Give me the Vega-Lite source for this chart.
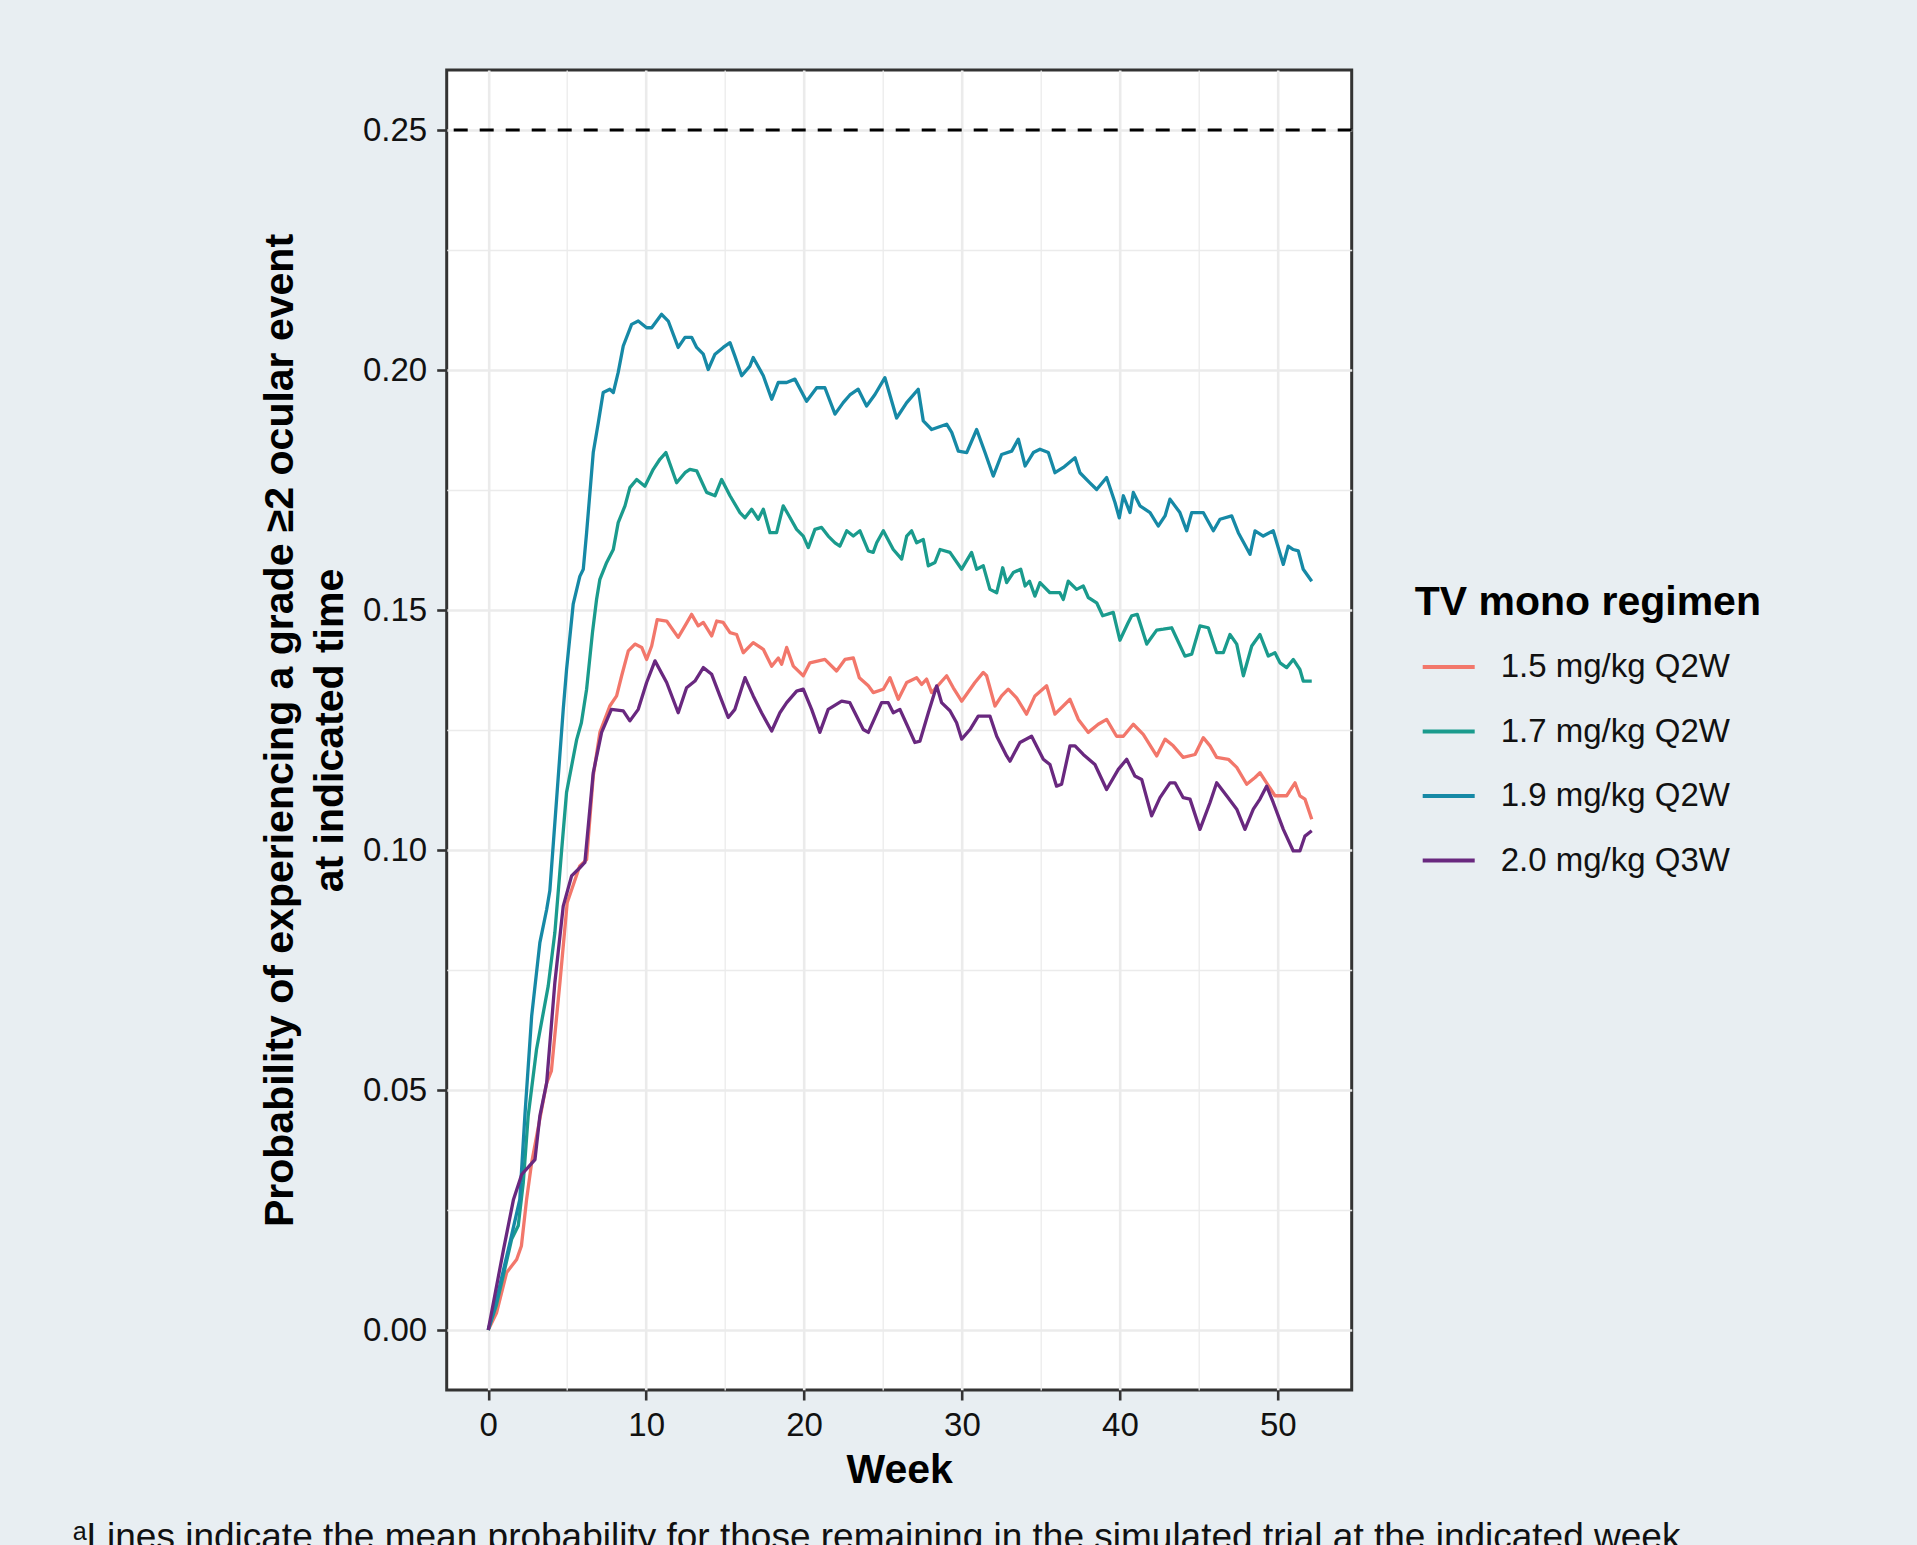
{
  "$schema": "https://vega.github.io/schema/vega-lite/v6.json",
  "width": 905,
  "height": 1320,
  "autosize": {"type": "none"},
  "padding": {"left": 446.7, "top": 70, "right": 565.3, "bottom": 155},
  "background": "#E8EEF2",
  "title": {
    "text": "ᵃLines indicate the mean probability for those remaining in the simulated trial at the indicated week.",
    "orient": "bottom",
    "anchor": "start",
    "frame": "group",
    "dx": -374,
    "offset": 30,
    "fontSize": 37,
    "fontWeight": "normal",
    "font": "Liberation Sans",
    "color": "#111111"
  },
  "datasets": {
    "curves": [
      {"regimen": "1.5 mg/kg Q2W", "week": 0, "prob": 0},
      {"regimen": "1.5 mg/kg Q2W", "week": 0.53, "prob": 0.0036},
      {"regimen": "1.5 mg/kg Q2W", "week": 1.17, "prob": 0.012},
      {"regimen": "1.5 mg/kg Q2W", "week": 1.8, "prob": 0.0147},
      {"regimen": "1.5 mg/kg Q2W", "week": 2.1, "prob": 0.0175},
      {"regimen": "1.5 mg/kg Q2W", "week": 2.43, "prob": 0.0272},
      {"regimen": "1.5 mg/kg Q2W", "week": 2.75, "prob": 0.0349},
      {"regimen": "1.5 mg/kg Q2W", "week": 3.7, "prob": 0.0515},
      {"regimen": "1.5 mg/kg Q2W", "week": 4.0, "prob": 0.054},
      {"regimen": "1.5 mg/kg Q2W", "week": 4.54, "prob": 0.0724},
      {"regimen": "1.5 mg/kg Q2W", "week": 5.0, "prob": 0.089},
      {"regimen": "1.5 mg/kg Q2W", "week": 5.8, "prob": 0.0967},
      {"regimen": "1.5 mg/kg Q2W", "week": 6.23, "prob": 0.098},
      {"regimen": "1.5 mg/kg Q2W", "week": 6.65, "prob": 0.1154},
      {"regimen": "1.5 mg/kg Q2W", "week": 7.07, "prob": 0.1245},
      {"regimen": "1.5 mg/kg Q2W", "week": 7.7, "prob": 0.13},
      {"regimen": "1.5 mg/kg Q2W", "week": 8.13, "prob": 0.1321},
      {"regimen": "1.5 mg/kg Q2W", "week": 8.45, "prob": 0.1363},
      {"regimen": "1.5 mg/kg Q2W", "week": 8.87, "prob": 0.1415},
      {"regimen": "1.5 mg/kg Q2W", "week": 9.29, "prob": 0.1429},
      {"regimen": "1.5 mg/kg Q2W", "week": 9.72, "prob": 0.1422},
      {"regimen": "1.5 mg/kg Q2W", "week": 10.03, "prob": 0.1397},
      {"regimen": "1.5 mg/kg Q2W", "week": 10.35, "prob": 0.1425},
      {"regimen": "1.5 mg/kg Q2W", "week": 10.7, "prob": 0.148},
      {"regimen": "1.5 mg/kg Q2W", "week": 11.3, "prob": 0.1477},
      {"regimen": "1.5 mg/kg Q2W", "week": 12.03, "prob": 0.1443},
      {"regimen": "1.5 mg/kg Q2W", "week": 12.46, "prob": 0.1467},
      {"regimen": "1.5 mg/kg Q2W", "week": 12.88, "prob": 0.1491},
      {"regimen": "1.5 mg/kg Q2W", "week": 13.3, "prob": 0.1467},
      {"regimen": "1.5 mg/kg Q2W", "week": 13.62, "prob": 0.1474},
      {"regimen": "1.5 mg/kg Q2W", "week": 14.15, "prob": 0.1446},
      {"regimen": "1.5 mg/kg Q2W", "week": 14.47, "prob": 0.1477},
      {"regimen": "1.5 mg/kg Q2W", "week": 14.88, "prob": 0.1474},
      {"regimen": "1.5 mg/kg Q2W", "week": 15.31, "prob": 0.1453},
      {"regimen": "1.5 mg/kg Q2W", "week": 15.73, "prob": 0.1449},
      {"regimen": "1.5 mg/kg Q2W", "week": 16.15, "prob": 0.1411},
      {"regimen": "1.5 mg/kg Q2W", "week": 16.78, "prob": 0.1432},
      {"regimen": "1.5 mg/kg Q2W", "week": 17.42, "prob": 0.1418},
      {"regimen": "1.5 mg/kg Q2W", "week": 17.95, "prob": 0.1383},
      {"regimen": "1.5 mg/kg Q2W", "week": 18.37, "prob": 0.14},
      {"regimen": "1.5 mg/kg Q2W", "week": 18.58, "prob": 0.1387},
      {"regimen": "1.5 mg/kg Q2W", "week": 18.9, "prob": 0.1422},
      {"regimen": "1.5 mg/kg Q2W", "week": 19.32, "prob": 0.1383},
      {"regimen": "1.5 mg/kg Q2W", "week": 19.95, "prob": 0.1363},
      {"regimen": "1.5 mg/kg Q2W", "week": 20.37, "prob": 0.139},
      {"regimen": "1.5 mg/kg Q2W", "week": 21.32, "prob": 0.1397},
      {"regimen": "1.5 mg/kg Q2W", "week": 22.06, "prob": 0.1373},
      {"regimen": "1.5 mg/kg Q2W", "week": 22.59, "prob": 0.1397},
      {"regimen": "1.5 mg/kg Q2W", "week": 23.12, "prob": 0.14},
      {"regimen": "1.5 mg/kg Q2W", "week": 23.5, "prob": 0.1359},
      {"regimen": "1.5 mg/kg Q2W", "week": 24.07, "prob": 0.1342},
      {"regimen": "1.5 mg/kg Q2W", "week": 24.38, "prob": 0.1328},
      {"regimen": "1.5 mg/kg Q2W", "week": 25.02, "prob": 0.1335},
      {"regimen": "1.5 mg/kg Q2W", "week": 25.44, "prob": 0.1359},
      {"regimen": "1.5 mg/kg Q2W", "week": 25.97, "prob": 0.1314},
      {"regimen": "1.5 mg/kg Q2W", "week": 26.5, "prob": 0.1349},
      {"regimen": "1.5 mg/kg Q2W", "week": 27.13, "prob": 0.1359},
      {"regimen": "1.5 mg/kg Q2W", "week": 27.45, "prob": 0.1345},
      {"regimen": "1.5 mg/kg Q2W", "week": 27.76, "prob": 0.1356},
      {"regimen": "1.5 mg/kg Q2W", "week": 28.08, "prob": 0.1328},
      {"regimen": "1.5 mg/kg Q2W", "week": 29.03, "prob": 0.1363},
      {"regimen": "1.5 mg/kg Q2W", "week": 29.45, "prob": 0.1338},
      {"regimen": "1.5 mg/kg Q2W", "week": 29.98, "prob": 0.131},
      {"regimen": "1.5 mg/kg Q2W", "week": 30.82, "prob": 0.1349},
      {"regimen": "1.5 mg/kg Q2W", "week": 31.35, "prob": 0.137},
      {"regimen": "1.5 mg/kg Q2W", "week": 31.56, "prob": 0.1363},
      {"regimen": "1.5 mg/kg Q2W", "week": 32.09, "prob": 0.13},
      {"regimen": "1.5 mg/kg Q2W", "week": 32.51, "prob": 0.1321},
      {"regimen": "1.5 mg/kg Q2W", "week": 32.93, "prob": 0.1335},
      {"regimen": "1.5 mg/kg Q2W", "week": 33.46, "prob": 0.1317},
      {"regimen": "1.5 mg/kg Q2W", "week": 34.09, "prob": 0.1283},
      {"regimen": "1.5 mg/kg Q2W", "week": 34.62, "prob": 0.1321},
      {"regimen": "1.5 mg/kg Q2W", "week": 35.36, "prob": 0.1342},
      {"regimen": "1.5 mg/kg Q2W", "week": 35.89, "prob": 0.1283},
      {"regimen": "1.5 mg/kg Q2W", "week": 36.84, "prob": 0.1314},
      {"regimen": "1.5 mg/kg Q2W", "week": 37.37, "prob": 0.1272},
      {"regimen": "1.5 mg/kg Q2W", "week": 38.0, "prob": 0.1245},
      {"regimen": "1.5 mg/kg Q2W", "week": 38.63, "prob": 0.1262},
      {"regimen": "1.5 mg/kg Q2W", "week": 39.16, "prob": 0.1272},
      {"regimen": "1.5 mg/kg Q2W", "week": 39.79, "prob": 0.1237},
      {"regimen": "1.5 mg/kg Q2W", "week": 40.22, "prob": 0.1237},
      {"regimen": "1.5 mg/kg Q2W", "week": 40.85, "prob": 0.1262},
      {"regimen": "1.5 mg/kg Q2W", "week": 41.48, "prob": 0.1241},
      {"regimen": "1.5 mg/kg Q2W", "week": 42.33, "prob": 0.1196},
      {"regimen": "1.5 mg/kg Q2W", "week": 42.86, "prob": 0.1231},
      {"regimen": "1.5 mg/kg Q2W", "week": 43.38, "prob": 0.1217},
      {"regimen": "1.5 mg/kg Q2W", "week": 44.01, "prob": 0.1193},
      {"regimen": "1.5 mg/kg Q2W", "week": 44.76, "prob": 0.1199},
      {"regimen": "1.5 mg/kg Q2W", "week": 45.28, "prob": 0.1234},
      {"regimen": "1.5 mg/kg Q2W", "week": 45.71, "prob": 0.1217},
      {"regimen": "1.5 mg/kg Q2W", "week": 46.13, "prob": 0.1193},
      {"regimen": "1.5 mg/kg Q2W", "week": 46.87, "prob": 0.1189},
      {"regimen": "1.5 mg/kg Q2W", "week": 47.4, "prob": 0.1172},
      {"regimen": "1.5 mg/kg Q2W", "week": 48.03, "prob": 0.1137},
      {"regimen": "1.5 mg/kg Q2W", "week": 48.56, "prob": 0.1151},
      {"regimen": "1.5 mg/kg Q2W", "week": 48.87, "prob": 0.1161},
      {"regimen": "1.5 mg/kg Q2W", "week": 49.29, "prob": 0.114},
      {"regimen": "1.5 mg/kg Q2W", "week": 49.82, "prob": 0.1113},
      {"regimen": "1.5 mg/kg Q2W", "week": 50.56, "prob": 0.1113},
      {"regimen": "1.5 mg/kg Q2W", "week": 51.09, "prob": 0.114},
      {"regimen": "1.5 mg/kg Q2W", "week": 51.4, "prob": 0.1113},
      {"regimen": "1.5 mg/kg Q2W", "week": 51.72, "prob": 0.1106},
      {"regimen": "1.5 mg/kg Q2W", "week": 52.15, "prob": 0.1064},

      {"regimen": "1.7 mg/kg Q2W", "week": 0, "prob": 0},
      {"regimen": "1.7 mg/kg Q2W", "week": 0.5, "prob": 0.005},
      {"regimen": "1.7 mg/kg Q2W", "week": 1.0, "prob": 0.012},
      {"regimen": "1.7 mg/kg Q2W", "week": 1.48, "prob": 0.0189},
      {"regimen": "1.7 mg/kg Q2W", "week": 1.9, "prob": 0.0217},
      {"regimen": "1.7 mg/kg Q2W", "week": 2.22, "prob": 0.0307},
      {"regimen": "1.7 mg/kg Q2W", "week": 2.53, "prob": 0.0446},
      {"regimen": "1.7 mg/kg Q2W", "week": 3.06, "prob": 0.0585},
      {"regimen": "1.7 mg/kg Q2W", "week": 3.8, "prob": 0.0717},
      {"regimen": "1.7 mg/kg Q2W", "week": 4.22, "prob": 0.0828},
      {"regimen": "1.7 mg/kg Q2W", "week": 4.65, "prob": 0.1},
      {"regimen": "1.7 mg/kg Q2W", "week": 4.96, "prob": 0.112},
      {"regimen": "1.7 mg/kg Q2W", "week": 5.6, "prob": 0.123},
      {"regimen": "1.7 mg/kg Q2W", "week": 5.9, "prob": 0.1265},
      {"regimen": "1.7 mg/kg Q2W", "week": 6.23, "prob": 0.1335},
      {"regimen": "1.7 mg/kg Q2W", "week": 6.6, "prob": 0.1453},
      {"regimen": "1.7 mg/kg Q2W", "week": 6.86, "prob": 0.1522},
      {"regimen": "1.7 mg/kg Q2W", "week": 7.07, "prob": 0.1564},
      {"regimen": "1.7 mg/kg Q2W", "week": 7.5, "prob": 0.1599},
      {"regimen": "1.7 mg/kg Q2W", "week": 7.92, "prob": 0.1626},
      {"regimen": "1.7 mg/kg Q2W", "week": 8.23, "prob": 0.1682},
      {"regimen": "1.7 mg/kg Q2W", "week": 8.66, "prob": 0.1717},
      {"regimen": "1.7 mg/kg Q2W", "week": 8.97, "prob": 0.1755},
      {"regimen": "1.7 mg/kg Q2W", "week": 9.4, "prob": 0.1772},
      {"regimen": "1.7 mg/kg Q2W", "week": 9.92, "prob": 0.1758},
      {"regimen": "1.7 mg/kg Q2W", "week": 10.45, "prob": 0.1793},
      {"regimen": "1.7 mg/kg Q2W", "week": 10.87, "prob": 0.1814},
      {"regimen": "1.7 mg/kg Q2W", "week": 11.25, "prob": 0.1828},
      {"regimen": "1.7 mg/kg Q2W", "week": 11.93, "prob": 0.1765},
      {"regimen": "1.7 mg/kg Q2W", "week": 12.46, "prob": 0.1786},
      {"regimen": "1.7 mg/kg Q2W", "week": 12.77, "prob": 0.1793},
      {"regimen": "1.7 mg/kg Q2W", "week": 13.2, "prob": 0.179},
      {"regimen": "1.7 mg/kg Q2W", "week": 13.83, "prob": 0.1745},
      {"regimen": "1.7 mg/kg Q2W", "week": 14.36, "prob": 0.1738},
      {"regimen": "1.7 mg/kg Q2W", "week": 14.78, "prob": 0.1772},
      {"regimen": "1.7 mg/kg Q2W", "week": 15.31, "prob": 0.1738},
      {"regimen": "1.7 mg/kg Q2W", "week": 15.94, "prob": 0.1703},
      {"regimen": "1.7 mg/kg Q2W", "week": 16.26, "prob": 0.1692},
      {"regimen": "1.7 mg/kg Q2W", "week": 16.68, "prob": 0.171},
      {"regimen": "1.7 mg/kg Q2W", "week": 17.1, "prob": 0.1689},
      {"regimen": "1.7 mg/kg Q2W", "week": 17.42, "prob": 0.171},
      {"regimen": "1.7 mg/kg Q2W", "week": 17.84, "prob": 0.1661},
      {"regimen": "1.7 mg/kg Q2W", "week": 18.26, "prob": 0.1661},
      {"regimen": "1.7 mg/kg Q2W", "week": 18.68, "prob": 0.1717},
      {"regimen": "1.7 mg/kg Q2W", "week": 19.0, "prob": 0.1699},
      {"regimen": "1.7 mg/kg Q2W", "week": 19.53, "prob": 0.1668},
      {"regimen": "1.7 mg/kg Q2W", "week": 19.95, "prob": 0.1654},
      {"regimen": "1.7 mg/kg Q2W", "week": 20.27, "prob": 0.163},
      {"regimen": "1.7 mg/kg Q2W", "week": 20.69, "prob": 0.1668},
      {"regimen": "1.7 mg/kg Q2W", "week": 21.11, "prob": 0.1672},
      {"regimen": "1.7 mg/kg Q2W", "week": 21.53, "prob": 0.1654},
      {"regimen": "1.7 mg/kg Q2W", "week": 21.96, "prob": 0.164},
      {"regimen": "1.7 mg/kg Q2W", "week": 22.27, "prob": 0.1633},
      {"regimen": "1.7 mg/kg Q2W", "week": 22.7, "prob": 0.1665},
      {"regimen": "1.7 mg/kg Q2W", "week": 23.12, "prob": 0.1654},
      {"regimen": "1.7 mg/kg Q2W", "week": 23.54, "prob": 0.1665},
      {"regimen": "1.7 mg/kg Q2W", "week": 24.07, "prob": 0.1623},
      {"regimen": "1.7 mg/kg Q2W", "week": 24.38, "prob": 0.162},
      {"regimen": "1.7 mg/kg Q2W", "week": 24.6, "prob": 0.164},
      {"regimen": "1.7 mg/kg Q2W", "week": 25.02, "prob": 0.1665},
      {"regimen": "1.7 mg/kg Q2W", "week": 25.65, "prob": 0.1626},
      {"regimen": "1.7 mg/kg Q2W", "week": 26.18, "prob": 0.1606},
      {"regimen": "1.7 mg/kg Q2W", "week": 26.5, "prob": 0.1654},
      {"regimen": "1.7 mg/kg Q2W", "week": 26.81, "prob": 0.1665},
      {"regimen": "1.7 mg/kg Q2W", "week": 27.13, "prob": 0.164},
      {"regimen": "1.7 mg/kg Q2W", "week": 27.55, "prob": 0.1647},
      {"regimen": "1.7 mg/kg Q2W", "week": 27.87, "prob": 0.1592},
      {"regimen": "1.7 mg/kg Q2W", "week": 28.29, "prob": 0.1599},
      {"regimen": "1.7 mg/kg Q2W", "week": 28.61, "prob": 0.1626},
      {"regimen": "1.7 mg/kg Q2W", "week": 29.24, "prob": 0.162},
      {"regimen": "1.7 mg/kg Q2W", "week": 29.98, "prob": 0.1585},
      {"regimen": "1.7 mg/kg Q2W", "week": 30.61, "prob": 0.162},
      {"regimen": "1.7 mg/kg Q2W", "week": 30.93, "prob": 0.1585},
      {"regimen": "1.7 mg/kg Q2W", "week": 31.35, "prob": 0.1592},
      {"regimen": "1.7 mg/kg Q2W", "week": 31.77, "prob": 0.1543},
      {"regimen": "1.7 mg/kg Q2W", "week": 32.2, "prob": 0.1536},
      {"regimen": "1.7 mg/kg Q2W", "week": 32.58, "prob": 0.1588},
      {"regimen": "1.7 mg/kg Q2W", "week": 32.83, "prob": 0.1557},
      {"regimen": "1.7 mg/kg Q2W", "week": 33.25, "prob": 0.1578},
      {"regimen": "1.7 mg/kg Q2W", "week": 33.72, "prob": 0.1585},
      {"regimen": "1.7 mg/kg Q2W", "week": 34.0, "prob": 0.155},
      {"regimen": "1.7 mg/kg Q2W", "week": 34.28, "prob": 0.156},
      {"regimen": "1.7 mg/kg Q2W", "week": 34.62, "prob": 0.1529},
      {"regimen": "1.7 mg/kg Q2W", "week": 34.94, "prob": 0.1557},
      {"regimen": "1.7 mg/kg Q2W", "week": 35.57, "prob": 0.1536},
      {"regimen": "1.7 mg/kg Q2W", "week": 36.2, "prob": 0.1536},
      {"regimen": "1.7 mg/kg Q2W", "week": 36.42, "prob": 0.1522},
      {"regimen": "1.7 mg/kg Q2W", "week": 36.73, "prob": 0.156},
      {"regimen": "1.7 mg/kg Q2W", "week": 37.26, "prob": 0.1543},
      {"regimen": "1.7 mg/kg Q2W", "week": 37.68, "prob": 0.155},
      {"regimen": "1.7 mg/kg Q2W", "week": 38.0, "prob": 0.1526},
      {"regimen": "1.7 mg/kg Q2W", "week": 38.53, "prob": 0.1515},
      {"regimen": "1.7 mg/kg Q2W", "week": 38.91, "prob": 0.1488},
      {"regimen": "1.7 mg/kg Q2W", "week": 39.58, "prob": 0.1495},
      {"regimen": "1.7 mg/kg Q2W", "week": 40.0, "prob": 0.1437},
      {"regimen": "1.7 mg/kg Q2W", "week": 40.53, "prob": 0.1474},
      {"regimen": "1.7 mg/kg Q2W", "week": 40.75, "prob": 0.1488},
      {"regimen": "1.7 mg/kg Q2W", "week": 41.1, "prob": 0.1491},
      {"regimen": "1.7 mg/kg Q2W", "week": 41.7, "prob": 0.1429},
      {"regimen": "1.7 mg/kg Q2W", "week": 42.33, "prob": 0.1458},
      {"regimen": "1.7 mg/kg Q2W", "week": 42.75, "prob": 0.146},
      {"regimen": "1.7 mg/kg Q2W", "week": 43.28, "prob": 0.1463},
      {"regimen": "1.7 mg/kg Q2W", "week": 44.12, "prob": 0.1404},
      {"regimen": "1.7 mg/kg Q2W", "week": 44.55, "prob": 0.1408},
      {"regimen": "1.7 mg/kg Q2W", "week": 45.07, "prob": 0.1467},
      {"regimen": "1.7 mg/kg Q2W", "week": 45.6, "prob": 0.1463},
      {"regimen": "1.7 mg/kg Q2W", "week": 46.13, "prob": 0.1411},
      {"regimen": "1.7 mg/kg Q2W", "week": 46.55, "prob": 0.1411},
      {"regimen": "1.7 mg/kg Q2W", "week": 46.97, "prob": 0.1449},
      {"regimen": "1.7 mg/kg Q2W", "week": 47.4, "prob": 0.1429},
      {"regimen": "1.7 mg/kg Q2W", "week": 47.82, "prob": 0.1363},
      {"regimen": "1.7 mg/kg Q2W", "week": 48.35, "prob": 0.1425},
      {"regimen": "1.7 mg/kg Q2W", "week": 48.87, "prob": 0.1449},
      {"regimen": "1.7 mg/kg Q2W", "week": 49.4, "prob": 0.1404},
      {"regimen": "1.7 mg/kg Q2W", "week": 49.82, "prob": 0.1411},
      {"regimen": "1.7 mg/kg Q2W", "week": 50.14, "prob": 0.139},
      {"regimen": "1.7 mg/kg Q2W", "week": 50.56, "prob": 0.138},
      {"regimen": "1.7 mg/kg Q2W", "week": 50.98, "prob": 0.1397},
      {"regimen": "1.7 mg/kg Q2W", "week": 51.4, "prob": 0.1376},
      {"regimen": "1.7 mg/kg Q2W", "week": 51.61, "prob": 0.1352},
      {"regimen": "1.7 mg/kg Q2W", "week": 52.15, "prob": 0.1352},

      {"regimen": "1.9 mg/kg Q2W", "week": 0, "prob": 0},
      {"regimen": "1.9 mg/kg Q2W", "week": 0.5, "prob": 0.006},
      {"regimen": "1.9 mg/kg Q2W", "week": 1.0, "prob": 0.013},
      {"regimen": "1.9 mg/kg Q2W", "week": 1.5, "prob": 0.02},
      {"regimen": "1.9 mg/kg Q2W", "week": 2.0, "prob": 0.0272},
      {"regimen": "1.9 mg/kg Q2W", "week": 2.32, "prob": 0.0446},
      {"regimen": "1.9 mg/kg Q2W", "week": 2.75, "prob": 0.0654},
      {"regimen": "1.9 mg/kg Q2W", "week": 3.27, "prob": 0.0807},
      {"regimen": "1.9 mg/kg Q2W", "week": 3.7, "prob": 0.0876},
      {"regimen": "1.9 mg/kg Q2W", "week": 3.9, "prob": 0.0915},
      {"regimen": "1.9 mg/kg Q2W", "week": 4.33, "prob": 0.1106},
      {"regimen": "1.9 mg/kg Q2W", "week": 4.75, "prob": 0.1293},
      {"regimen": "1.9 mg/kg Q2W", "week": 4.96, "prob": 0.1376},
      {"regimen": "1.9 mg/kg Q2W", "week": 5.38, "prob": 0.1512},
      {"regimen": "1.9 mg/kg Q2W", "week": 5.8, "prob": 0.157},
      {"regimen": "1.9 mg/kg Q2W", "week": 6.02, "prob": 0.1585},
      {"regimen": "1.9 mg/kg Q2W", "week": 6.23, "prob": 0.1661},
      {"regimen": "1.9 mg/kg Q2W", "week": 6.65, "prob": 0.1828},
      {"regimen": "1.9 mg/kg Q2W", "week": 6.97, "prob": 0.189},
      {"regimen": "1.9 mg/kg Q2W", "week": 7.28, "prob": 0.1953},
      {"regimen": "1.9 mg/kg Q2W", "week": 7.7, "prob": 0.196},
      {"regimen": "1.9 mg/kg Q2W", "week": 7.92, "prob": 0.1953},
      {"regimen": "1.9 mg/kg Q2W", "week": 8.23, "prob": 0.1995},
      {"regimen": "1.9 mg/kg Q2W", "week": 8.55, "prob": 0.205},
      {"regimen": "1.9 mg/kg Q2W", "week": 9.08, "prob": 0.2095},
      {"regimen": "1.9 mg/kg Q2W", "week": 9.5, "prob": 0.2102},
      {"regimen": "1.9 mg/kg Q2W", "week": 10.03, "prob": 0.2088},
      {"regimen": "1.9 mg/kg Q2W", "week": 10.35, "prob": 0.2088},
      {"regimen": "1.9 mg/kg Q2W", "week": 10.98, "prob": 0.2116},
      {"regimen": "1.9 mg/kg Q2W", "week": 11.4, "prob": 0.2102},
      {"regimen": "1.9 mg/kg Q2W", "week": 12.03, "prob": 0.2047},
      {"regimen": "1.9 mg/kg Q2W", "week": 12.46, "prob": 0.2068},
      {"regimen": "1.9 mg/kg Q2W", "week": 12.88, "prob": 0.2068},
      {"regimen": "1.9 mg/kg Q2W", "week": 13.2, "prob": 0.2047},
      {"regimen": "1.9 mg/kg Q2W", "week": 13.62, "prob": 0.2033},
      {"regimen": "1.9 mg/kg Q2W", "week": 13.93, "prob": 0.2001},
      {"regimen": "1.9 mg/kg Q2W", "week": 14.36, "prob": 0.2033},
      {"regimen": "1.9 mg/kg Q2W", "week": 14.88, "prob": 0.2047},
      {"regimen": "1.9 mg/kg Q2W", "week": 15.31, "prob": 0.2057},
      {"regimen": "1.9 mg/kg Q2W", "week": 15.62, "prob": 0.2029},
      {"regimen": "1.9 mg/kg Q2W", "week": 16.05, "prob": 0.1988},
      {"regimen": "1.9 mg/kg Q2W", "week": 16.57, "prob": 0.2008},
      {"regimen": "1.9 mg/kg Q2W", "week": 16.78, "prob": 0.2026},
      {"regimen": "1.9 mg/kg Q2W", "week": 17.42, "prob": 0.1988},
      {"regimen": "1.9 mg/kg Q2W", "week": 17.95, "prob": 0.1939},
      {"regimen": "1.9 mg/kg Q2W", "week": 18.37, "prob": 0.1974},
      {"regimen": "1.9 mg/kg Q2W", "week": 18.9, "prob": 0.1974},
      {"regimen": "1.9 mg/kg Q2W", "week": 19.42, "prob": 0.1981},
      {"regimen": "1.9 mg/kg Q2W", "week": 20.16, "prob": 0.1935},
      {"regimen": "1.9 mg/kg Q2W", "week": 20.8, "prob": 0.1963},
      {"regimen": "1.9 mg/kg Q2W", "week": 21.32, "prob": 0.1963},
      {"regimen": "1.9 mg/kg Q2W", "week": 21.96, "prob": 0.1908},
      {"regimen": "1.9 mg/kg Q2W", "week": 22.48, "prob": 0.1932},
      {"regimen": "1.9 mg/kg Q2W", "week": 22.9, "prob": 0.1948},
      {"regimen": "1.9 mg/kg Q2W", "week": 23.43, "prob": 0.196},
      {"regimen": "1.9 mg/kg Q2W", "week": 23.96, "prob": 0.1925},
      {"regimen": "1.9 mg/kg Q2W", "week": 24.49, "prob": 0.1949},
      {"regimen": "1.9 mg/kg Q2W", "week": 25.12, "prob": 0.1984},
      {"regimen": "1.9 mg/kg Q2W", "week": 25.86, "prob": 0.19},
      {"regimen": "1.9 mg/kg Q2W", "week": 26.5, "prob": 0.1932},
      {"regimen": "1.9 mg/kg Q2W", "week": 27.23, "prob": 0.196},
      {"regimen": "1.9 mg/kg Q2W", "week": 27.55, "prob": 0.1894},
      {"regimen": "1.9 mg/kg Q2W", "week": 28.08, "prob": 0.1876},
      {"regimen": "1.9 mg/kg Q2W", "week": 29.03, "prob": 0.1887},
      {"regimen": "1.9 mg/kg Q2W", "week": 29.35, "prob": 0.187},
      {"regimen": "1.9 mg/kg Q2W", "week": 29.77, "prob": 0.1831},
      {"regimen": "1.9 mg/kg Q2W", "week": 30.3, "prob": 0.1828},
      {"regimen": "1.9 mg/kg Q2W", "week": 30.93, "prob": 0.1876},
      {"regimen": "1.9 mg/kg Q2W", "week": 31.46, "prob": 0.1828},
      {"regimen": "1.9 mg/kg Q2W", "week": 31.98, "prob": 0.1779},
      {"regimen": "1.9 mg/kg Q2W", "week": 32.51, "prob": 0.1824},
      {"regimen": "1.9 mg/kg Q2W", "week": 33.15, "prob": 0.1831},
      {"regimen": "1.9 mg/kg Q2W", "week": 33.57, "prob": 0.1856},
      {"regimen": "1.9 mg/kg Q2W", "week": 34.0, "prob": 0.18},
      {"regimen": "1.9 mg/kg Q2W", "week": 34.52, "prob": 0.1828},
      {"regimen": "1.9 mg/kg Q2W", "week": 34.94, "prob": 0.1835},
      {"regimen": "1.9 mg/kg Q2W", "week": 35.47, "prob": 0.1828},
      {"regimen": "1.9 mg/kg Q2W", "week": 35.89, "prob": 0.1786},
      {"regimen": "1.9 mg/kg Q2W", "week": 36.42, "prob": 0.1797},
      {"regimen": "1.9 mg/kg Q2W", "week": 37.16, "prob": 0.1817},
      {"regimen": "1.9 mg/kg Q2W", "week": 37.47, "prob": 0.1786},
      {"regimen": "1.9 mg/kg Q2W", "week": 38.1, "prob": 0.1765},
      {"regimen": "1.9 mg/kg Q2W", "week": 38.53, "prob": 0.1751},
      {"regimen": "1.9 mg/kg Q2W", "week": 39.16, "prob": 0.1776},
      {"regimen": "1.9 mg/kg Q2W", "week": 39.69, "prob": 0.1724},
      {"regimen": "1.9 mg/kg Q2W", "week": 39.96, "prob": 0.1692},
      {"regimen": "1.9 mg/kg Q2W", "week": 40.22, "prob": 0.1738},
      {"regimen": "1.9 mg/kg Q2W", "week": 40.64, "prob": 0.1703},
      {"regimen": "1.9 mg/kg Q2W", "week": 40.85, "prob": 0.1745},
      {"regimen": "1.9 mg/kg Q2W", "week": 41.27, "prob": 0.1717},
      {"regimen": "1.9 mg/kg Q2W", "week": 41.91, "prob": 0.1703},
      {"regimen": "1.9 mg/kg Q2W", "week": 42.43, "prob": 0.1675},
      {"regimen": "1.9 mg/kg Q2W", "week": 42.86, "prob": 0.1696},
      {"regimen": "1.9 mg/kg Q2W", "week": 43.17, "prob": 0.1731},
      {"regimen": "1.9 mg/kg Q2W", "week": 43.8, "prob": 0.1703},
      {"regimen": "1.9 mg/kg Q2W", "week": 44.23, "prob": 0.1665},
      {"regimen": "1.9 mg/kg Q2W", "week": 44.55, "prob": 0.1703},
      {"regimen": "1.9 mg/kg Q2W", "week": 45.28, "prob": 0.1703},
      {"regimen": "1.9 mg/kg Q2W", "week": 45.92, "prob": 0.1665},
      {"regimen": "1.9 mg/kg Q2W", "week": 46.34, "prob": 0.1689},
      {"regimen": "1.9 mg/kg Q2W", "week": 47.08, "prob": 0.1696},
      {"regimen": "1.9 mg/kg Q2W", "week": 47.5, "prob": 0.1661},
      {"regimen": "1.9 mg/kg Q2W", "week": 48.24, "prob": 0.1616},
      {"regimen": "1.9 mg/kg Q2W", "week": 48.56, "prob": 0.1665},
      {"regimen": "1.9 mg/kg Q2W", "week": 49.08, "prob": 0.1654},
      {"regimen": "1.9 mg/kg Q2W", "week": 49.71, "prob": 0.1665},
      {"regimen": "1.9 mg/kg Q2W", "week": 50.35, "prob": 0.1595},
      {"regimen": "1.9 mg/kg Q2W", "week": 50.66, "prob": 0.1633},
      {"regimen": "1.9 mg/kg Q2W", "week": 50.98, "prob": 0.1626},
      {"regimen": "1.9 mg/kg Q2W", "week": 51.3, "prob": 0.1623},
      {"regimen": "1.9 mg/kg Q2W", "week": 51.61, "prob": 0.1585},
      {"regimen": "1.9 mg/kg Q2W", "week": 52.15, "prob": 0.156},

      {"regimen": "2.0 mg/kg Q3W", "week": 0, "prob": 0},
      {"regimen": "2.0 mg/kg Q3W", "week": 0.97, "prob": 0.0168},
      {"regimen": "2.0 mg/kg Q3W", "week": 1.6, "prob": 0.0272},
      {"regimen": "2.0 mg/kg Q3W", "week": 2.12, "prob": 0.0324},
      {"regimen": "2.0 mg/kg Q3W", "week": 2.96, "prob": 0.0355},
      {"regimen": "2.0 mg/kg Q3W", "week": 3.27, "prob": 0.0446},
      {"regimen": "2.0 mg/kg Q3W", "week": 3.7, "prob": 0.0515},
      {"regimen": "2.0 mg/kg Q3W", "week": 4.22, "prob": 0.0724},
      {"regimen": "2.0 mg/kg Q3W", "week": 4.75, "prob": 0.0883},
      {"regimen": "2.0 mg/kg Q3W", "week": 5.28, "prob": 0.0946},
      {"regimen": "2.0 mg/kg Q3W", "week": 5.8, "prob": 0.0963},
      {"regimen": "2.0 mg/kg Q3W", "week": 6.12, "prob": 0.0974},
      {"regimen": "2.0 mg/kg Q3W", "week": 6.65, "prob": 0.1161},
      {"regimen": "2.0 mg/kg Q3W", "week": 7.18, "prob": 0.1245},
      {"regimen": "2.0 mg/kg Q3W", "week": 7.8, "prob": 0.1293},
      {"regimen": "2.0 mg/kg Q3W", "week": 8.55, "prob": 0.129},
      {"regimen": "2.0 mg/kg Q3W", "week": 8.97, "prob": 0.1269},
      {"regimen": "2.0 mg/kg Q3W", "week": 9.5, "prob": 0.1293},
      {"regimen": "2.0 mg/kg Q3W", "week": 10.03, "prob": 0.1349},
      {"regimen": "2.0 mg/kg Q3W", "week": 10.56, "prob": 0.1394},
      {"regimen": "2.0 mg/kg Q3W", "week": 11.3, "prob": 0.1349},
      {"regimen": "2.0 mg/kg Q3W", "week": 12.03, "prob": 0.1286},
      {"regimen": "2.0 mg/kg Q3W", "week": 12.56, "prob": 0.1338},
      {"regimen": "2.0 mg/kg Q3W", "week": 13.09, "prob": 0.1352},
      {"regimen": "2.0 mg/kg Q3W", "week": 13.62, "prob": 0.138},
      {"regimen": "2.0 mg/kg Q3W", "week": 14.15, "prob": 0.1366},
      {"regimen": "2.0 mg/kg Q3W", "week": 14.67, "prob": 0.1321},
      {"regimen": "2.0 mg/kg Q3W", "week": 15.2, "prob": 0.1276},
      {"regimen": "2.0 mg/kg Q3W", "week": 15.62, "prob": 0.1293},
      {"regimen": "2.0 mg/kg Q3W", "week": 16.26, "prob": 0.1359},
      {"regimen": "2.0 mg/kg Q3W", "week": 16.78, "prob": 0.1321},
      {"regimen": "2.0 mg/kg Q3W", "week": 17.31, "prob": 0.1286},
      {"regimen": "2.0 mg/kg Q3W", "week": 17.95, "prob": 0.1248},
      {"regimen": "2.0 mg/kg Q3W", "week": 18.47, "prob": 0.1286},
      {"regimen": "2.0 mg/kg Q3W", "week": 18.9, "prob": 0.1307},
      {"regimen": "2.0 mg/kg Q3W", "week": 19.53, "prob": 0.1331},
      {"regimen": "2.0 mg/kg Q3W", "week": 19.95, "prob": 0.1335},
      {"regimen": "2.0 mg/kg Q3W", "week": 20.48, "prob": 0.1293},
      {"regimen": "2.0 mg/kg Q3W", "week": 21.0, "prob": 0.1245},
      {"regimen": "2.0 mg/kg Q3W", "week": 21.53, "prob": 0.1293},
      {"regimen": "2.0 mg/kg Q3W", "week": 22.38, "prob": 0.131},
      {"regimen": "2.0 mg/kg Q3W", "week": 22.9, "prob": 0.1307},
      {"regimen": "2.0 mg/kg Q3W", "week": 23.75, "prob": 0.1251},
      {"regimen": "2.0 mg/kg Q3W", "week": 24.07, "prob": 0.1245},
      {"regimen": "2.0 mg/kg Q3W", "week": 24.91, "prob": 0.1307},
      {"regimen": "2.0 mg/kg Q3W", "week": 25.33, "prob": 0.1307},
      {"regimen": "2.0 mg/kg Q3W", "week": 25.65, "prob": 0.1286},
      {"regimen": "2.0 mg/kg Q3W", "week": 26.07, "prob": 0.1293},
      {"regimen": "2.0 mg/kg Q3W", "week": 26.5, "prob": 0.1262},
      {"regimen": "2.0 mg/kg Q3W", "week": 27.02, "prob": 0.1224},
      {"regimen": "2.0 mg/kg Q3W", "week": 27.34, "prob": 0.1227},
      {"regimen": "2.0 mg/kg Q3W", "week": 27.87, "prob": 0.1286},
      {"regimen": "2.0 mg/kg Q3W", "week": 28.4, "prob": 0.1342},
      {"regimen": "2.0 mg/kg Q3W", "week": 28.71, "prob": 0.1307},
      {"regimen": "2.0 mg/kg Q3W", "week": 29.24, "prob": 0.129},
      {"regimen": "2.0 mg/kg Q3W", "week": 29.66, "prob": 0.1265},
      {"regimen": "2.0 mg/kg Q3W", "week": 29.98, "prob": 0.1231},
      {"regimen": "2.0 mg/kg Q3W", "week": 30.51, "prob": 0.1251},
      {"regimen": "2.0 mg/kg Q3W", "week": 31.03, "prob": 0.1279},
      {"regimen": "2.0 mg/kg Q3W", "week": 31.35, "prob": 0.1279},
      {"regimen": "2.0 mg/kg Q3W", "week": 31.77, "prob": 0.1279},
      {"regimen": "2.0 mg/kg Q3W", "week": 32.2, "prob": 0.1237},
      {"regimen": "2.0 mg/kg Q3W", "week": 32.83, "prob": 0.1196},
      {"regimen": "2.0 mg/kg Q3W", "week": 33.04, "prob": 0.1185},
      {"regimen": "2.0 mg/kg Q3W", "week": 33.67, "prob": 0.1224},
      {"regimen": "2.0 mg/kg Q3W", "week": 34.41, "prob": 0.1237},
      {"regimen": "2.0 mg/kg Q3W", "week": 35.15, "prob": 0.1189},
      {"regimen": "2.0 mg/kg Q3W", "week": 35.57, "prob": 0.1178},
      {"regimen": "2.0 mg/kg Q3W", "week": 35.99, "prob": 0.1133},
      {"regimen": "2.0 mg/kg Q3W", "week": 36.31, "prob": 0.1137},
      {"regimen": "2.0 mg/kg Q3W", "week": 36.84, "prob": 0.1217},
      {"regimen": "2.0 mg/kg Q3W", "week": 37.16, "prob": 0.1217},
      {"regimen": "2.0 mg/kg Q3W", "week": 37.68, "prob": 0.1199},
      {"regimen": "2.0 mg/kg Q3W", "week": 38.42, "prob": 0.1178},
      {"regimen": "2.0 mg/kg Q3W", "week": 39.16, "prob": 0.1126},
      {"regimen": "2.0 mg/kg Q3W", "week": 39.9, "prob": 0.1168},
      {"regimen": "2.0 mg/kg Q3W", "week": 40.43, "prob": 0.1189},
      {"regimen": "2.0 mg/kg Q3W", "week": 40.95, "prob": 0.1154},
      {"regimen": "2.0 mg/kg Q3W", "week": 41.38, "prob": 0.1147},
      {"regimen": "2.0 mg/kg Q3W", "week": 42.01, "prob": 0.1071},
      {"regimen": "2.0 mg/kg Q3W", "week": 42.54, "prob": 0.1109},
      {"regimen": "2.0 mg/kg Q3W", "week": 43.17, "prob": 0.114},
      {"regimen": "2.0 mg/kg Q3W", "week": 43.49, "prob": 0.114},
      {"regimen": "2.0 mg/kg Q3W", "week": 44.01, "prob": 0.1109},
      {"regimen": "2.0 mg/kg Q3W", "week": 44.44, "prob": 0.1106},
      {"regimen": "2.0 mg/kg Q3W", "week": 45.07, "prob": 0.1043},
      {"regimen": "2.0 mg/kg Q3W", "week": 45.71, "prob": 0.1099},
      {"regimen": "2.0 mg/kg Q3W", "week": 46.13, "prob": 0.114},
      {"regimen": "2.0 mg/kg Q3W", "week": 46.76, "prob": 0.1113},
      {"regimen": "2.0 mg/kg Q3W", "week": 47.4, "prob": 0.1085},
      {"regimen": "2.0 mg/kg Q3W", "week": 47.92, "prob": 0.1043},
      {"regimen": "2.0 mg/kg Q3W", "week": 48.45, "prob": 0.1085},
      {"regimen": "2.0 mg/kg Q3W", "week": 48.87, "prob": 0.1106},
      {"regimen": "2.0 mg/kg Q3W", "week": 49.29, "prob": 0.1133},
      {"regimen": "2.0 mg/kg Q3W", "week": 49.71, "prob": 0.1099},
      {"regimen": "2.0 mg/kg Q3W", "week": 50.35, "prob": 0.1043},
      {"regimen": "2.0 mg/kg Q3W", "week": 50.98, "prob": 0.0998},
      {"regimen": "2.0 mg/kg Q3W", "week": 51.4, "prob": 0.0998},
      {"regimen": "2.0 mg/kg Q3W", "week": 51.72, "prob": 0.1029},
      {"regimen": "2.0 mg/kg Q3W", "week": 52.15, "prob": 0.104}
    ],
    "threshold": [{"limit": 0.25}]
  },
  "layer": [
    {
      "data": {"name": "threshold"},
      "mark": {"type": "rule", "color": "#000000", "strokeWidth": 3, "strokeDash": [14, 12]},
      "encoding": {
        "y": {"field": "limit", "type": "quantitative"}
      }
    },
    {
      "data": {"name": "curves"},
      "mark": {"type": "line", "strokeWidth": 3.3, "strokeJoin": "round", "strokeCap": "butt"},
      "encoding": {
        "x": {
          "field": "week",
          "type": "quantitative",
          "scale": {"domain": [-2.63, 54.68], "nice": false, "zero": false},
          "axis": {
            "title": "Week",
            "values": [0, 5, 10, 15, 20, 25, 30, 35, 40, 45, 50],
            "labelExpr": "datum.value % 10 === 0 ? format(datum.value, 'd') : ''",
            "gridWidth": {"condition": {"test": "datum.value % 10 === 0", "value": 2.6}, "value": 1.3},
            "tickOpacity": {"condition": {"test": "datum.value % 10 === 0", "value": 1}, "value": 0},
            "labelPadding": 9,
            "titlePadding": 8
          }
        },
        "y": {
          "field": "prob",
          "type": "quantitative",
          "scale": {"domain": [-0.0125, 0.2625], "nice": false, "zero": false},
          "axis": {
            "title": ["Probability of experiencing a grade ≥2 ocular event", "at indicated time"],
            "values": [0, 0.025, 0.05, 0.075, 0.1, 0.125, 0.15, 0.175, 0.2, 0.225, 0.25],
            "labelExpr": "abs(datum.value * 20 - round(datum.value * 20)) < 0.000001 ? format(datum.value, '.2f') : ''",
            "gridWidth": {"condition": {"test": "abs(datum.value * 20 - round(datum.value * 20)) < 0.000001", "value": 2.6}, "value": 1.3},
            "tickOpacity": {"condition": {"test": "abs(datum.value * 20 - round(datum.value * 20)) < 0.000001", "value": 1}, "value": 0},
            "labelPadding": 10,
            "titlePadding": 11,
            "titleLineHeight": 50
          }
        },
        "color": {
          "field": "regimen",
          "type": "nominal",
          "scale": {
            "domain": ["1.5 mg/kg Q2W", "1.7 mg/kg Q2W", "1.9 mg/kg Q2W", "2.0 mg/kg Q3W"],
            "range": ["#F2776B", "#1A9B8D", "#1689A6", "#69287F"]
          },
          "legend": {
            "title": "TV mono regimen",
            "orient": "none",
            "legendX": 968,
            "legendY": 513,
            "padding": 0,
            "symbolType": "stroke",
            "symbolSize": 2704,
            "symbolStrokeWidth": 4,
            "symbolOffset": 6,
            "labelOffset": 24,
            "rowPadding": 19.5,
            "titlePadding": 15,
            "titleFontSize": 41,
            "titleFontWeight": "bold",
            "titleColor": "#000000",
            "titleFont": "Liberation Sans",
            "labelFontSize": 33,
            "labelFont": "Liberation Sans",
            "labelColor": "#111111",
            "labelLimit": 500,
            "titleLimit": 600
          }
        }
      }
    }
  ],
  "config": {
    "font": "Liberation Sans",
    "view": {"fill": "#FFFFFF", "stroke": "#333333", "strokeWidth": 3},
    "axis": {
      "domain": false,
      "grid": true,
      "gridColor": "#EBEBEB",
      "ticks": true,
      "tickColor": "#333333",
      "tickWidth": 2.6,
      "tickSize": 10,
      "labelFont": "Liberation Sans",
      "labelFontSize": 33,
      "labelColor": "#111111",
      "titleFont": "Liberation Sans",
      "titleFontSize": 41,
      "titleFontWeight": "bold",
      "titleColor": "#000000",
      "labelOverlap": false,
      "labelFlush": false
    }
  }
}
